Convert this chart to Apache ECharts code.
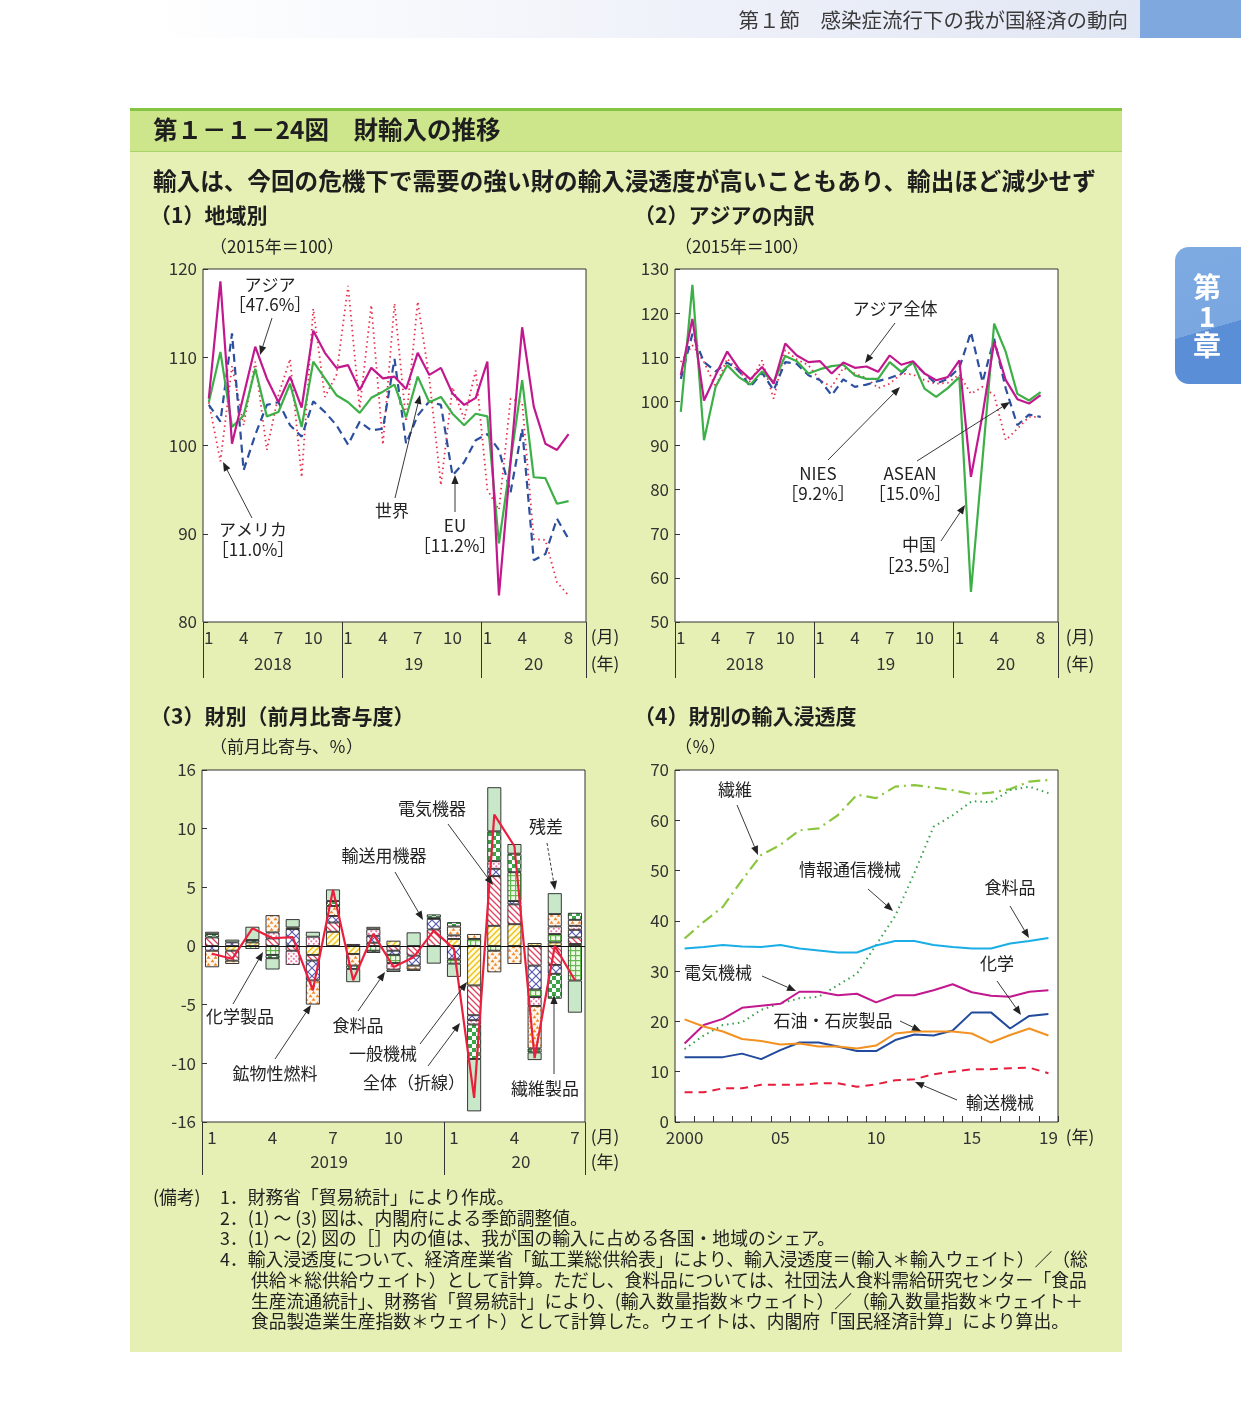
<!DOCTYPE html>
<html><head><meta charset="utf-8">
<script src="https://cdn.jsdelivr.net/npm/echarts@6/dist/echarts.min.js"></script>
<style>html,body{margin:0;padding:0;background:#fff}#c{width:1241px;height:1402px}</style>
</head><body><div id="c"></div>
<script>
const FONT = '"Noto Sans CJK JP","Noto Sans",sans-serif';

// ---------- Panel (1) / (2): monthly, 2018/1 - 2020/8 (axis runs to 2020/9) ----------
const months = ['2018/1','2018/2','2018/3','2018/4','2018/5','2018/6','2018/7','2018/8','2018/9','2018/10','2018/11','2018/12',
  '2019/1','2019/2','2019/3','2019/4','2019/5','2019/6','2019/7','2019/8','2019/9','2019/10','2019/11','2019/12',
  '2020/1','2020/2','2020/3','2020/4','2020/5','2020/6','2020/7','2020/8','2020/9'];
const lastMonth = '2020/8';
const yearLabels12 = {'2018/7':'2018','2019/7':'19','2020/5':'20'};

const p1Asia  = [105.3,118.6,100.2,105.7,111.2,107.6,104.9,107.8,104.3,113.0,110.5,108.8,109.1,106.3,108.8,107.6,107.8,106.4,110.5,108.0,108.8,105.9,104.6,105.4,109.5,83.0,98.2,113.4,104.4,100.2,99.5,101.3];
const p1World = [104.9,110.6,102.1,103.4,108.7,103.3,103.8,107.0,102.1,109.5,107.6,105.7,104.9,103.7,105.4,106.1,106.9,103.2,107.8,104.9,105.5,103.6,102.3,103.6,103.3,88.9,98.2,107.4,96.4,96.3,93.4,93.7];
const p1USA   = [104.9,98.2,109.0,102.3,109.5,99.5,105.7,109.8,96.4,115.5,105.5,108.0,118.1,104.2,115.9,100.1,116.1,102.7,116.3,107.6,95.5,106.6,103.0,108.5,95.0,92.7,105.3,104.9,89.4,89.3,84.5,83.0];
const p1EU    = [104.6,102.7,112.7,97.2,101.2,104.6,104.9,102.3,101.0,105.0,103.8,102.3,100.1,102.7,101.7,101.9,109.8,100.2,103.4,105.0,104.6,96.6,98.1,100.6,101.3,99.5,94.7,101.9,87.0,87.7,91.7,89.4];

const p2Asia  = [105.9,118.7,100.2,105.9,111.3,107.4,105.0,107.8,104.0,113.1,110.4,108.9,109.1,106.3,108.8,107.6,107.9,106.7,110.4,108.3,109.1,106.3,104.8,105.5,109.3,82.9,97.0,113.5,104.8,100.5,99.5,101.4];
const p2China = [97.6,126.4,91.2,103.3,108.2,105.5,103.8,106.8,104.4,110.3,109.1,106.3,107.3,108.0,108.3,105.9,105.1,105.1,108.9,106.7,108.9,102.9,101.0,103.0,105.5,56.8,87.0,117.6,111.2,101.7,100.2,102.1];
const p2NIES  = [105.1,115.3,108.9,106.8,108.8,107.0,103.3,106.5,102.5,108.9,108.5,105.9,104.8,101.4,105.0,103.3,103.8,104.6,105.3,106.3,108.9,106.3,104.0,105.1,107.6,115.7,104.4,114.2,102.9,94.6,97.0,96.5];
const p2ASEAN = [108.9,112.7,108.9,103.3,109.7,106.7,104.4,109.3,100.6,111.6,109.5,108.2,104.8,103.3,107.6,106.3,105.3,103.0,104.0,106.3,106.1,104.8,104.0,104.2,106.1,101.7,103.3,101.4,91.2,93.8,96.5,96.5];

// ---------- Panel (3): contributions, 2019/1 - 2020/7 ----------
const months3 = ['2019/1','2019/2','2019/3','2019/4','2019/5','2019/6','2019/7','2019/8','2019/9','2019/10','2019/11','2019/12',
  '2020/1','2020/2','2020/3','2020/4','2020/5','2020/6','2020/7'];
const yearLabels3 = {'2019/7':'2019','2020/4':'20'};
const p3General   = [0,-0.4,0.31,0,0,-0.76,1.21,-0.68,0,0.45,0,0,0.6,-3.36,1.72,1.86,0.25,0.31,0.17];
const p3Electric  = [0.73,-0.85,0,0.65,-0.4,-0.48,0.79,0.17,0.28,-0.4,-0.82,1.41,0,-2.54,4.24,1.69,-1.67,-1.61,0.56];
const p3Transport = [-0.4,0.31,0,0,1.44,-1.69,0.56,0,0.59,-0.35,-0.85,0.9,-1.13,-0.42,0.62,0.28,-2.03,-0.76,0.65];
const p3Chemical  = [0,0,-0.25,-0.76,0,0,0,0,-0.4,-0.7,0,0.1,-0.37,0.6,-0.4,2.46,-0.65,0.71,-2.94];
const p3Food      = [0,0,0,0.51,-1.21,0.79,0,0,0.56,-0.56,0,0,0.3,-0.37,0.65,0,-0.76,0.65,0.34];
const p3Fuel      = [-1.41,-0.28,0,1.47,0,-2.06,0.85,-0.99,0.2,0,-0.34,0,0.76,0.42,-1.84,-1.53,-3.62,1.05,0.51];
const p3Textile   = [0.28,0,0.2,-0.28,0.14,0,0.42,-0.28,-0.19,0,-0.1,0.28,0.37,-2.94,2.54,1.58,-0.34,-2.12,0.6];
const p3Residual  = [0.2,0.23,1.13,-0.96,0.71,0.42,0.99,-1.13,0,-0.2,1.16,-1.5,-1.13,-4.46,3.76,0.82,-0.65,1.78,-2.74];
const p3Total     = [-0.66,-1.09,1.51,0.66,0.75,-3.77,4.79,-2.92,1.03,-1.79,-0.95,1.31,-0.24,-12.95,11.2,8.5,-9.56,0.0,-2.92];
const p3TickLabels = {'15':'16','-15':'-16'};

// ---------- Panel (4): import penetration, 2000 - 2019 ----------
const years4 = ['2000','2001','2002','2003','2004','2005','2006','2007','2008','2009','2010','2011','2012','2013','2014','2015','2016','2017','2018','2019'];
const years4Labels = {'2000':'2000','2005':'05','2010':'10','2015':'15','2019':'19'};
const p4Fiber = [36.5,39.8,42.8,48.1,53.1,55.1,58.0,58.4,61.0,65.1,64.4,66.7,67.0,66.5,66.0,65.2,65.5,66.2,67.7,68.0];
const p4ICT   = [14.5,17.2,19.3,19.8,22.3,23.6,24.6,24.9,27.2,29.5,35.2,41.0,49.5,58.7,61.0,63.8,63.6,66.0,66.7,65.4];
const p4Food  = [34.5,34.8,35.2,34.9,34.8,35.2,34.5,34.1,33.7,33.7,35.1,36.0,36.0,35.2,34.8,34.5,34.5,35.5,36.0,36.6];
const p4Elec  = [15.6,19.3,20.5,22.7,23.1,23.5,25.9,25.9,25.2,25.5,23.8,25.2,25.2,26.2,27.4,25.8,25.1,24.9,25.9,26.2];
const p4Chem  = [12.9,12.9,12.9,13.6,12.5,14.3,15.8,15.8,15.0,14.1,14.1,16.3,17.4,17.2,18.2,21.8,21.8,18.6,21.1,21.5];
const p4Oil   = [20.4,19.0,18.0,16.5,16.1,15.4,15.6,15.0,15.0,14.6,15.2,17.6,18.0,18.0,18.0,17.6,15.8,17.3,18.6,17.2];
const p4Trans = [5.9,5.9,6.7,6.7,7.4,7.4,7.4,7.7,7.7,7.0,7.5,8.3,8.5,9.5,10.0,10.5,10.5,10.7,10.8,9.7];

// ---------- patterns ----------
function pat(w, h, draw) {
  const c = document.createElement('canvas'); c.width = w; c.height = h;
  const g = c.getContext('2d'); draw(g, w, h);
  return { image: c, repeat: 'repeat' };
}
const patRed = pat(6, 6, (g, w, h) => { g.fillStyle = '#fff'; g.fillRect(0,0,w,h); g.strokeStyle = '#e4405c'; g.lineWidth = 1.3;
  g.beginPath(); g.moveTo(-1,-1); g.lineTo(7,7); g.moveTo(5,-1); g.lineTo(7,1); g.moveTo(-1,5); g.lineTo(1,7); g.stroke(); });
const patYellow = pat(6, 6, (g, w, h) => { g.fillStyle = '#fffbe0'; g.fillRect(0,0,w,h); g.strokeStyle = '#f0c21a'; g.lineWidth = 1.5;
  g.beginPath(); g.moveTo(-1,7); g.lineTo(7,-1); g.moveTo(-1,1); g.lineTo(1,-1); g.moveTo(5,7); g.lineTo(7,5); g.stroke(); });
const patBlue = pat(8, 8, (g, w, h) => { g.fillStyle = '#fff'; g.fillRect(0,0,w,h); g.strokeStyle = '#5a5cb4'; g.lineWidth = 1.2;
  g.beginPath(); g.moveTo(0,0); g.lineTo(8,8); g.moveTo(8,0); g.lineTo(0,8); g.stroke(); });
const patChecker = pat(8, 8, (g, w, h) => { g.fillStyle = '#fff'; g.fillRect(0,0,w,h); g.fillStyle = '#3aa547'; g.fillRect(0,0,4,4); g.fillRect(4,4,4,4); });
const patGrid = pat(5, 5, (g, w, h) => { g.fillStyle = '#eef8e6'; g.fillRect(0,0,w,h); g.fillStyle = '#62ba4c'; g.fillRect(0,0,5,1.2); g.fillRect(0,0,1.2,5); });
const patPink = pat(5, 5, (g, w, h) => { g.fillStyle = '#fff'; g.fillRect(0,0,w,h); g.fillStyle = '#ef77a6';
  g.beginPath(); g.arc(1.3,1.3,1.1,0,Math.PI*2); g.arc(3.8,3.8,1.1,0,Math.PI*2); g.fill(); });
const patOrange = pat(7, 7, (g, w, h) => { g.fillStyle = '#fff7ee'; g.fillRect(0,0,w,h); g.fillStyle = '#f28b2c';
  g.beginPath(); g.moveTo(0.5,3.2); g.lineTo(2.5,0.3); g.lineTo(4.5,3.2); g.closePath(); g.fill();
  g.beginPath(); g.moveTo(3.5,6.7); g.lineTo(5.5,3.8); g.lineTo(7.5,6.7); g.closePath(); g.fill();
  g.beginPath(); g.moveTo(-3.5,6.7); g.lineTo(-1.5,3.8); g.lineTo(0.5,6.7); g.closePath(); g.fill(); });
const colResidual = '#c9e8c9';

// ---------- helpers ----------
const AXC = '#333';
function monthAxis(grid, data, last) {
  const li = data.indexOf(last);
  return { type:'category', gridIndex:grid, data:data, position:'bottom', boundaryGap:true,
    axisLine:{show:false}, axisTick:{show:false}, splitLine:{show:false},
    axisLabel:{interval:0, margin:7, fontSize:17, color:AXC, fontFamily:FONT,
      formatter:(v) => { const m = +v.split('/')[1]; const i = data.indexOf(v);
        if (v === last) return String(m);
        return ([1,4,7,10].includes(m) && i <= li - 2) ? String(m) : ''; } } };
}
function yearAxis(grid, data, labels, shifts, tickLen, margin) {
  return { type:'category', gridIndex:grid, data:data, position:'bottom', boundaryGap:true,
    axisLine:{show:false}, splitLine:{show:false},
    axisTick:{show:true, inside:false, length:tickLen, interval:(i, v) => v.endsWith('/1'), lineStyle:{color:AXC, width:1}},
    axisLabel:{interval:0, margin:margin, color:AXC, fontFamily:FONT, fontSize:17,
      formatter:(v) => labels[v] ? '{' + (shifts[v] || 'n') + '|' + labels[v] + '}' : '',
      rich:{ n:{fontSize:17, color:AXC, fontFamily:FONT},
             l:{fontSize:17, color:AXC, fontFamily:FONT, padding:[0,11,0,0]},
             l8:{fontSize:17, color:AXC, fontFamily:FONT, padding:[0,8,0,0]},
             r:{fontSize:17, color:AXC, fontFamily:FONT, padding:[0,0,0,13]} } } };
}
function valAxis(grid, min, max, interval, fmt) {
  return { type:'value', gridIndex:grid, min:min, max:max, interval:interval,
    axisLine:{show:false}, splitLine:{show:false},
    axisTick:{show:true, inside:true, length:5, lineStyle:{color:AXC}},
    axisLabel:{fontSize:17, color:AXC, fontFamily:FONT, margin:6, formatter: fmt || ((v) => String(v))} };
}
function line(name, xi, yi, data, color, width, type, z) {
  return { name:name, type:'line', xAxisIndex:xi, yAxisIndex:yi, data:data, symbol:'none', showSymbol:false,
    lineStyle:{color:color, width:width, type:type || 'solid'}, z:z || 3, animation:false };
}
function bar(name, data, color) {
  return { name:name, type:'bar', xAxisIndex:4, yAxisIndex:2, stack:'p3', barWidth:14,
    data:data.map(v => v === 0 ? '-' : v),
    itemStyle:{color:color, borderColor:'#222', borderWidth:0.9}, animation:false, z:2 };
}
function txt(x, y, s, size, opt) {
  opt = opt || {};
  return { type:'text', x:x, y:y, z:100, style:{ text:s, fill:opt.color || '#222', fontSize:size || 17, fontFamily:FONT,
    fontWeight:opt.weight || 'normal', align:opt.align || 'center', verticalAlign:'middle' } };
}
function arrow(x1, y1, x2, y2, dash) {
  const dx = x2 - x1, dy = y2 - y1, L = Math.hypot(dx, dy), ux = dx / L, uy = dy / L;
  const ah = 9, aw = 3.6, bx = x2 - ux * ah, by = y2 - uy * ah;
  return [
    { type:'line', z:100, shape:{x1:x1, y1:y1, x2:bx, y2:by}, style:{stroke:'#222', lineWidth:0.9, lineDash: dash ? [3,2] : null} },
    { type:'polygon', z:100, shape:{points:[[x2,y2],[bx - uy*aw, by + ux*aw],[bx + uy*aw, by - ux*aw]]}, style:{fill:'#222'} }
  ];
}

// ---------- graphics (backgrounds, titles, notes, annotations) ----------
const G = [];
G.push({ type:'rect', z:-100, shape:{x:140, y:0, width:1000, height:38},
  style:{ fill:{ type:'linear', x:0, y:0, x2:1, y2:0, colorStops:[{offset:0, color:'#ffffff'},{offset:1, color:'#e1e6f4'}] } } });
G.push({ type:'rect', z:-100, shape:{x:1140, y:0, width:101, height:38}, style:{fill:'#7ea8de'} });
G.push(txt(1128, 20, '第１節　感染症流行下の我が国経済の動向', 20.5, {align:'right', color:'#3a3a3a'}));
G.push({ type:'rect', z:-100, shape:{x:130, y:108, width:992, height:1244}, style:{fill:'#e6f0b4'} });
G.push({ type:'rect', z:-99, shape:{x:130, y:108, width:992, height:44}, style:{fill:'#cde68c'} });
G.push({ type:'rect', z:-98, shape:{x:130, y:108, width:992, height:3}, style:{fill:'#84c443'} });
G.push({ type:'rect', z:-98, shape:{x:130, y:151, width:992, height:1}, style:{fill:'#a9d46a'} });
G.push(txt(153, 130, '第１－１－24図　財輸入の推移', 24.5, {align:'left', weight:'bold', color:'#1e1e1e'}));
G.push(txt(153, 181, '輸入は、今回の危機下で需要の強い財の輸入浸透度が高いこともあり、輸出ほど減少せず', 23.6, {align:'left', weight:'bold', color:'#1e1e1e'}));
G.push(txt(150, 215, '（1）地域別', 21, {align:'left', weight:'bold', color:'#1e1e1e'}));
G.push(txt(634, 215, '（2）アジアの内訳', 21, {align:'left', weight:'bold', color:'#1e1e1e'}));
G.push(txt(150, 716, '（3）財別（前月比寄与度）', 21, {align:'left', weight:'bold', color:'#1e1e1e'}));
G.push(txt(634, 716, '（4）財別の輸入浸透度', 21, {align:'left', weight:'bold', color:'#1e1e1e'}));
G.push(txt(210, 247, '（2015年＝100）', 17, {align:'left'}));
G.push(txt(675, 247, '（2015年＝100）', 17, {align:'left'}));
G.push(txt(210, 747, '（前月比寄与、％）', 17, {align:'left'}));
G.push(txt(675, 747, '（％）', 17, {align:'left'}));
G.push(txt(605, 637, '(月)', 17)); G.push(txt(605, 664, '(年)', 17));
G.push(txt(1080, 637, '(月)', 17)); G.push(txt(1080, 664, '(年)', 17));
G.push(txt(605, 1137, '(月)', 17)); G.push(txt(605, 1162, '(年)', 17));
G.push(txt(1080, 1137, '(年)', 17));
// chapter tab
G.push({ type:'rect', z:-90, shape:{x:1175, y:247, width:66, height:137, r:[14,0,0,14]},
  style:{ fill:{ type:'linear', x:0, y:0, x2:0.6, y2:1, colorStops:[{offset:0, color:'#7eaae2'},{offset:0.62, color:'#7aa7e0'},{offset:0.62, color:'#5a8ed6'},{offset:1, color:'#5a8ed6'}] } } });
G.push(txt(1207, 287, '第', 28, {color:'#fff', weight:'bold'}));
G.push(txt(1207, 316, '1', 28, {color:'#fff', weight:'bold'}));
G.push(txt(1207, 345, '章', 28, {color:'#fff', weight:'bold'}));
// notes
const NS = 17.8;
G.push(txt(153, 1197, '(備考)', NS, {align:'left'}));
G.push(txt(220, 1197, '1．財務省「貿易統計」により作成。', NS, {align:'left'}));
G.push(txt(220, 1218, '2．(1) ～ (3) 図は、内閣府による季節調整値。', NS, {align:'left'}));
G.push(txt(220, 1238, '3．(1) ～ (2) 図の［］内の値は、我が国の輸入に占める各国・地域のシェア。', NS, {align:'left'}));
G.push(txt(220, 1259, '4．輸入浸透度について、経済産業省「鉱工業総供給表」により、輸入浸透度＝(輸入＊輸入ウェイト）／（総', NS, {align:'left'}));
G.push(txt(251, 1280, '供給＊総供給ウェイト）として計算。ただし、食料品については、社団法人食料需給研究センター「食品', NS, {align:'left'}));
G.push(txt(251, 1301, '生産流通統計」、財務省「貿易統計」により、(輸入数量指数＊ウェイト）／（輸入数量指数＊ウェイト＋', NS, {align:'left'}));
G.push(txt(251, 1321, '食品製造業生産指数＊ウェイト）として計算した。ウェイトは、内閣府「国民経済計算」により算出。', NS, {align:'left'}));
// panel 1 annotations
G.push(txt(270, 285, 'アジア')); G.push(txt(270, 305, '［47.6%］'));
G.push(...arrow(272, 318, 260, 355));
G.push(txt(253, 530, 'アメリカ')); G.push(txt(253, 550, '［11.0%］'));
G.push(...arrow(252, 518, 223, 462));
G.push(txt(392, 511, '世界'));
G.push(...arrow(395, 498, 420, 395));
G.push(txt(455, 526, 'EU')); G.push(txt(455, 546, '［11.2%］'));
G.push(...arrow(455, 512, 455, 475));
// panel 2 annotations
G.push(txt(895, 309, 'アジア全体'));
G.push(...arrow(895, 323, 865, 363));
G.push(txt(818, 474, 'NIES')); G.push(txt(818, 494, '［9.2%］'));
G.push(...arrow(828, 460, 900, 387));
G.push(txt(910, 474, 'ASEAN')); G.push(txt(910, 494, '［15.0%］'));
G.push(...arrow(917, 461, 1010, 402));
G.push(txt(919, 545, '中国')); G.push(txt(919, 566, '［23.5%］'));
G.push(...arrow(941, 541, 965, 505));
// panel 3 annotations
G.push(txt(432, 809, '電気機器')); G.push(...arrow(448, 824, 493, 885));
G.push(txt(546, 827, '残差')); G.push(...arrow(547, 843, 555, 890, true));
G.push(txt(384, 856, '輸送用機器')); G.push(...arrow(395, 872, 423, 920));
G.push(txt(240, 1017, '化学製品')); G.push(...arrow(233, 1004, 263, 952));
G.push(txt(358, 1026, '食料品')); G.push(...arrow(358, 1011, 385, 972));
G.push(txt(383, 1054, '一般機械')); G.push(...arrow(420, 1044, 467, 982));
G.push(txt(275, 1074, '鉱物性燃料')); G.push(...arrow(275, 1059, 311, 1005));
G.push(txt(414, 1083, '全体（折線）')); G.push(...arrow(428, 1066, 460, 1023));
G.push(txt(545, 1089, '繊維製品')); G.push(...arrow(554, 1074, 554, 995));
// panel 4 annotations
G.push(txt(735, 790, '繊維')); G.push(...arrow(737, 805, 758, 855));
G.push(txt(850, 870, '情報通信機械')); G.push(...arrow(868, 889, 893, 911));
G.push(txt(1010, 888, '食料品')); G.push(...arrow(1010, 906, 1029, 938));
G.push(txt(997, 964, '化学')); G.push(...arrow(997, 981, 1021, 1015));
G.push(txt(718, 973, '電気機械')); G.push(...arrow(762, 976, 796, 991));
G.push(txt(833, 1021, '石油・石炭製品')); G.push(...arrow(900, 1021, 921, 1031));
G.push(txt(1000, 1103, '輸送機械')); G.push(...arrow(957, 1100, 915, 1082));

// ---------- option ----------
const gridStyle = {show:true, backgroundColor:'#fff', borderColor:'#333', borderWidth:1, containLabel:false};
const option = {
  backgroundColor:'#ffffff',
  animation:false,
  textStyle:{fontFamily:FONT},
  grid:[
    Object.assign({left:203, top:269, width:383, height:353}, gridStyle),
    Object.assign({left:675, top:269, width:383, height:353}, gridStyle),
    Object.assign({left:202, top:770, width:383, height:352}, gridStyle),
    Object.assign({left:675, top:770, width:383, height:352}, gridStyle)
  ],
  xAxis:[
    monthAxis(0, months, lastMonth),
    yearAxis(0, months, yearLabels12, {'2018/7':'l','2019/7':'l8'}, 56, 33),
    monthAxis(1, months, lastMonth),
    yearAxis(1, months, yearLabels12, {'2018/7':'l','2019/7':'l8'}, 56, 33),
    monthAxis(2, months3, '2020/7'),
    yearAxis(2, months3, yearLabels3, {'2019/7':'l8','2020/4':'r'}, 53, 31),
    { type:'category', gridIndex:3, data:years4, boundaryGap:true, position:'bottom',
      axisLine:{show:false}, splitLine:{show:false},
      axisTick:{show:true, inside:true, length:6, interval:0, lineStyle:{color:AXC}},
      axisLabel:{interval:0, margin:7, fontSize:17, color:AXC, fontFamily:FONT, formatter:(v) => years4Labels[v] || ''} }
  ],
  yAxis:[
    valAxis(0, 80, 120, 10),
    valAxis(1, 50, 130, 10),
    valAxis(2, -15, 15, 5, (v) => p3TickLabels[String(v)] || String(v)),
    valAxis(3, 0, 70, 10)
  ],
  series:[
    line('アメリカ', 0, 0, p1USA, '#e8304c', 1.8, [1.5, 3.5], 3),
    line('EU', 0, 0, p1EU, '#2c4f9e', 2.2, [8, 5], 4),
    line('世界', 0, 0, p1World, '#3cb047', 2.2, 'solid', 5),
    line('アジア', 0, 0, p1Asia, '#c2188e', 2.2, 'solid', 6),

    line('ASEAN', 2, 1, p2ASEAN, '#e8304c', 1.8, [1.5, 3.5], 3),
    line('NIES', 2, 1, p2NIES, '#2c4f9e', 2.2, [8, 5], 4),
    line('中国', 2, 1, p2China, '#3cb047', 2.2, 'solid', 5),
    line('アジア全体', 2, 1, p2Asia, '#c2188e', 2.2, 'solid', 6),

    bar('一般機械', p3General, patYellow),
    bar('電気機器', p3Electric, patRed),
    bar('輸送用機器', p3Transport, patBlue),
    bar('化学製品', p3Chemical, patGrid),
    bar('食料品', p3Food, patPink),
    bar('鉱物性燃料', p3Fuel, patOrange),
    bar('繊維製品', p3Textile, patChecker),
    bar('残差', p3Residual, colResidual),
    Object.assign(line('全体', 4, 2, p3Total, '#e8203e', 2.2, 'solid', 10), {
      markLine:{ silent:true, symbol:['none','none'], label:{show:false}, animation:false,
        lineStyle:{color:'#111', width:1, type:'solid'}, data:[{yAxis:0}] } }),

    line('繊維', 6, 3, p4Fiber, '#8cc63f', 2.2, [12, 5, 2, 5], 3),
    line('情報通信機械', 6, 3, p4ICT, '#36a048', 2, [1.5, 4], 3),
    line('食料品', 6, 3, p4Food, '#1aaee6', 2, 'solid', 4),
    line('電気機械', 6, 3, p4Elec, '#c2188e', 2, 'solid', 4),
    line('化学', 6, 3, p4Chem, '#214a9c', 2, 'solid', 4),
    line('石油・石炭製品', 6, 3, p4Oil, '#f39121', 2, 'solid', 4),
    line('輸送機械', 6, 3, p4Trans, '#e61e3e', 2, [8, 6], 4)
  ],
  graphic:{elements:G}
};
const chart = echarts.init(document.getElementById('c'), null, {renderer:'canvas'});
chart.setOption(option);
</script>
</body></html>
